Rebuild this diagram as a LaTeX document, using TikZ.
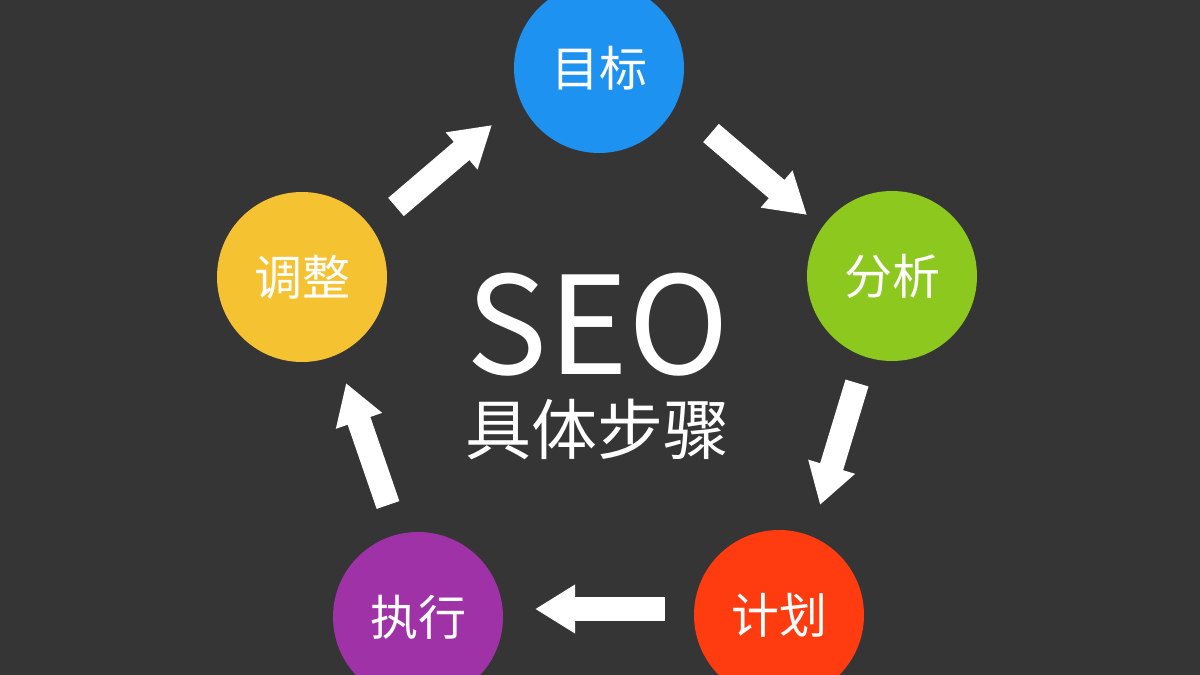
\documentclass[tikz,border=0pt]{standalone}
\usepackage{fontspec}
\setmainfont{Noto Sans CJK SC}
\usetikzlibrary{arrows.meta}
\definecolor{bg}{HTML}{353535}
\definecolor{cblue}{HTML}{1E92F0}
\definecolor{cgreen}{HTML}{8CC81E}
\definecolor{cred}{HTML}{FF3C10}
\definecolor{cpurple}{HTML}{A032A8}
\definecolor{cyellow}{HTML}{F5C232}
\begin{document}
\begin{tikzpicture}[x=1pt,y=-1pt,
  stepcircle/.style={circle, minimum size=170pt, inner sep=0pt, text=white,
    font=\fontsize{48}{48}\selectfont},
  flowarrow/.style={draw=white, line width=24pt, -{Triangle[width=46pt,length=40pt]}}]
\useasboundingbox (0,0) rectangle (1200,675);
\fill[bg] (0,0) rectangle (1200,675);

\node[stepcircle, fill=cblue]   (goal)   at (599,68)  {目标};
\node[stepcircle, fill=cgreen]  (anal)   at (892,276) {分析};
\node[stepcircle, fill=cred]    (plan)   at (779,615) {计划};
\node[stepcircle, fill=cpurple] (exec)   at (418,617) {执行};
\node[stepcircle, fill=cyellow] (adjust) at (302,277) {调整};

\node[text=white, font=\fontsize{136}{136}\selectfont] (seo) at (598,325) {SEO};
\node[text=white, font=\fontsize{66}{66}\selectfont] (steps) at (597,429) {具体步骤};

\coordinate (a1s) at (396,207); \coordinate (a1e) at (492,125);
\coordinate (a2s) at (711,133); \coordinate (a2e) at (807,215);
\coordinate (a3s) at (857,383); \coordinate (a3e) at (820,505);
\coordinate (a4s) at (665,609); \coordinate (a4e) at (535,609);
\coordinate (a5s) at (388,505); \coordinate (a5e) at (346,383);

\draw[flowarrow] (a1s) -- (a1e);
\draw[flowarrow] (a2s) -- (a2e);
\draw[flowarrow] (a3s) -- (a3e);
\draw[flowarrow] (a4s) -- (a4e);
\draw[flowarrow] (a5s) -- (a5e);
\end{tikzpicture}
\end{document}
